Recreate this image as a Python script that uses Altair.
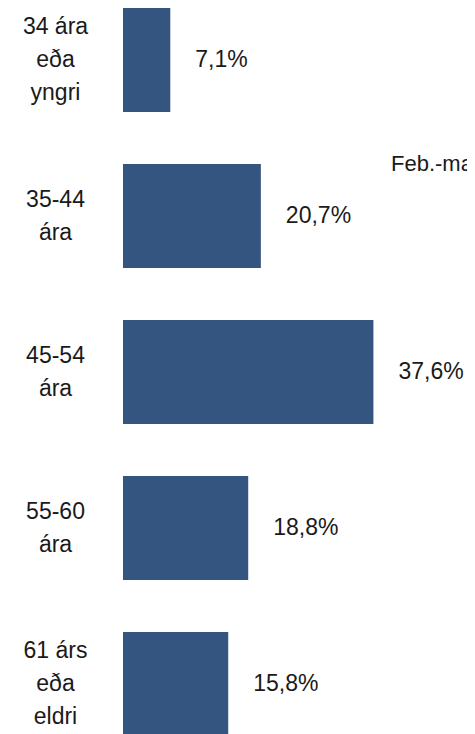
import altair as alt
import pandas as pd

categories = ["34 ára|eða|yngri", "35-44|ára", "45-54|ára", "55-60|ára", "61 árs|eða|eldri"]
values = [7.1, 20.7, 37.6, 18.8, 15.8]
value_labels = ["7,1%", "20,7%", "37,6%", "18,8%", "15,8%"]
series_name = "Feb.-mars"

FONT = "Liberation Sans, Arial, sans-serif"
TEXT = "#1a1a1a"

df = pd.DataFrame({"cat": categories, "val": values, "lab": value_labels})

y_enc = alt.Y(
    "cat:N",
    sort=None,
    scale=alt.Scale(paddingInner=0.333, paddingOuter=0),
    axis=alt.Axis(
        title=None,
        domain=False,
        ticks=False,
        labelExpr="split(datum.label, '|')",
        labelAlign="center",
        labelBaseline="middle",
        labelPadding=68,
        labelOffset={
            "condition": {"test": "length(split(datum.label, '|')) == 3", "value": -33},
            "value": -16,
        },
        labelFont=FONT,
        labelFontSize=23,
        labelLineHeight=33,
        labelColor=TEXT,
    ),
)

base = alt.Chart(df).encode(y=y_enc)

bars = base.mark_bar(color="#33557F").encode(
    x=alt.X("val:Q", scale=alt.Scale(domain=[0, 50], nice=False, zero=True), axis=None)
)

text = base.mark_text(
    align="left", baseline="middle", dx=25, fontSize=23, font=FONT, color=TEXT
).encode(x=alt.X("val:Q"), text="lab:N")

chart = (
    (bars + text)
    .properties(
        width=333,
        height=728,
        title=alt.Title(
            series_name,
            anchor="start",
            frame="group",
            dx=268,
            dy=189,
            fontSize=22,
            font=FONT,
            fontWeight="normal",
            baseline="alphabetic",
            color=TEXT,
        ),
        autosize=alt.AutoSizeParams(type="none"),
        padding={"left": 115, "top": 0, "right": 11, "bottom": 0},
    )
    .configure_view(stroke=None)
)

chart.save("out.html", embed_options={"renderer": "svg", "actions": False})
